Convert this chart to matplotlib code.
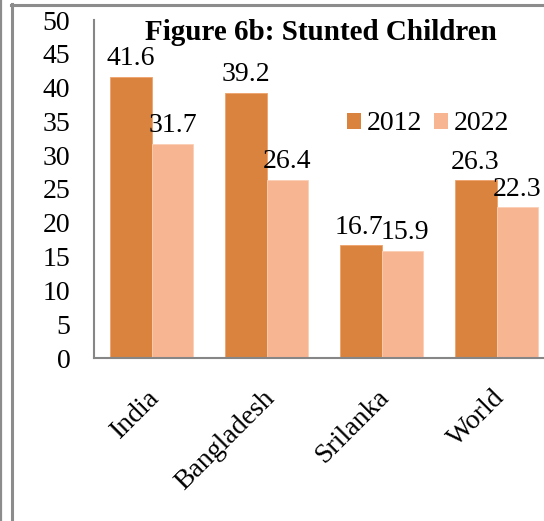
import matplotlib
matplotlib.use("Agg")
import matplotlib.pyplot as plt
from matplotlib.lines import Line2D
from matplotlib.patches import Patch
import matplotlib.transforms as mtransforms
import numpy as np

categories = ["India", "Bangladesh", "Srilanka", "World"]
series_2012 = [41.6, 39.2, 16.7, 26.3]
series_2022 = [31.7, 26.4, 15.9, 22.3]
y_ticks = [0, 5, 10, 15, 20, 25, 30, 35, 40, 45, 50]

c2012 = "#D9833F"
c2022 = "#F8B592"
axis_gray = "#868686"
fs = 20

plt.rcParams["font.family"] = ["Liberation Serif", "DejaVu Serif"]

W, H = 544, 521
fig = plt.figure(figsize=(W / 100, H / 100), dpi=100)

# plot area runs past the right edge of the frame
ax = fig.add_axes([94 / W, (H - 358) / H, 460 / W, 338 / H])

x = np.arange(len(categories))
bw = 0.365
b1 = ax.bar(x - bw / 2, series_2012, bw, color=c2012, edgecolor="#EFA36A", linewidth=0.6, label="2012")
b2 = ax.bar(x + bw / 2, series_2022, bw, color=c2022, edgecolor="#FCCFB5", linewidth=0.6, label="2022")

lab1 = ax.bar_label(b1, labels=[f"{v:.1f}" for v in series_2012], padding=4, fontsize=fs)
lab2 = ax.bar_label(b2, labels=[f"{v:.1f}" for v in series_2022], padding=4, fontsize=fs)
# keep the two close Srilanka labels from running into each other
lab1[2].xyann = (-1.5, 4)
lab2[2].xyann = (1.5, 4)

ax.set_xlim(-0.5, len(categories) - 0.5)
ax.set_ylim(0, 50)
ax.set_yticks(y_ticks)
ax.set_yticklabels([str(t) for t in y_ticks], fontsize=fs)
ax.tick_params(axis="y", length=0, pad=17)
ax.set_xticks(x)
ax.set_xticklabels(categories, fontsize=fs, rotation=45, ha="right", va="center",
                   rotation_mode="anchor")
ax.tick_params(axis="x", length=0, pad=26)
shift = mtransforms.ScaledTranslation(3 / 72, 0, fig.dpi_scale_trans)
for lab in ax.get_xticklabels():
    lab.set_transform(lab.get_transform() + shift)

for side in ("top", "right"):
    ax.spines[side].set_visible(False)
for side in ("left", "bottom"):
    ax.spines[side].set_color(axis_gray)
    ax.spines[side].set_linewidth(1.5)

fig.text(321 / W, 1 - 33 / H, "Figure 6b: Stunted Children", ha="center", va="center",
         fontsize=21, fontweight="bold")

handles = [Patch(facecolor=c2012, edgecolor="none"), Patch(facecolor=c2022, edgecolor="none")]
fig.legend(handles, ["2012", "2022"], loc="center", bbox_to_anchor=(428 / W, 1 - 124 / H),
           ncol=2, frameon=False, fontsize=fs, handlelength=0.5, handleheight=0.5,
           handletextpad=0.2, columnspacing=0.45, borderpad=0)

# outer frame lines
fig.add_artist(Line2D([1 / W, 1 / W], [0, 1], transform=fig.transFigure, color="#8C8C8C", lw=1.6))
fig.add_artist(Line2D([12 / W, 12 / W], [0, 1 - 4 / H], transform=fig.transFigure, color="#8C8C8C", lw=2.2))
fig.add_artist(Line2D([11 / W, 1], [1 - 5 / H, 1 - 5 / H], transform=fig.transFigure, color="#8C8C8C", lw=2.2))

fig.savefig("out.png", dpi=100)
